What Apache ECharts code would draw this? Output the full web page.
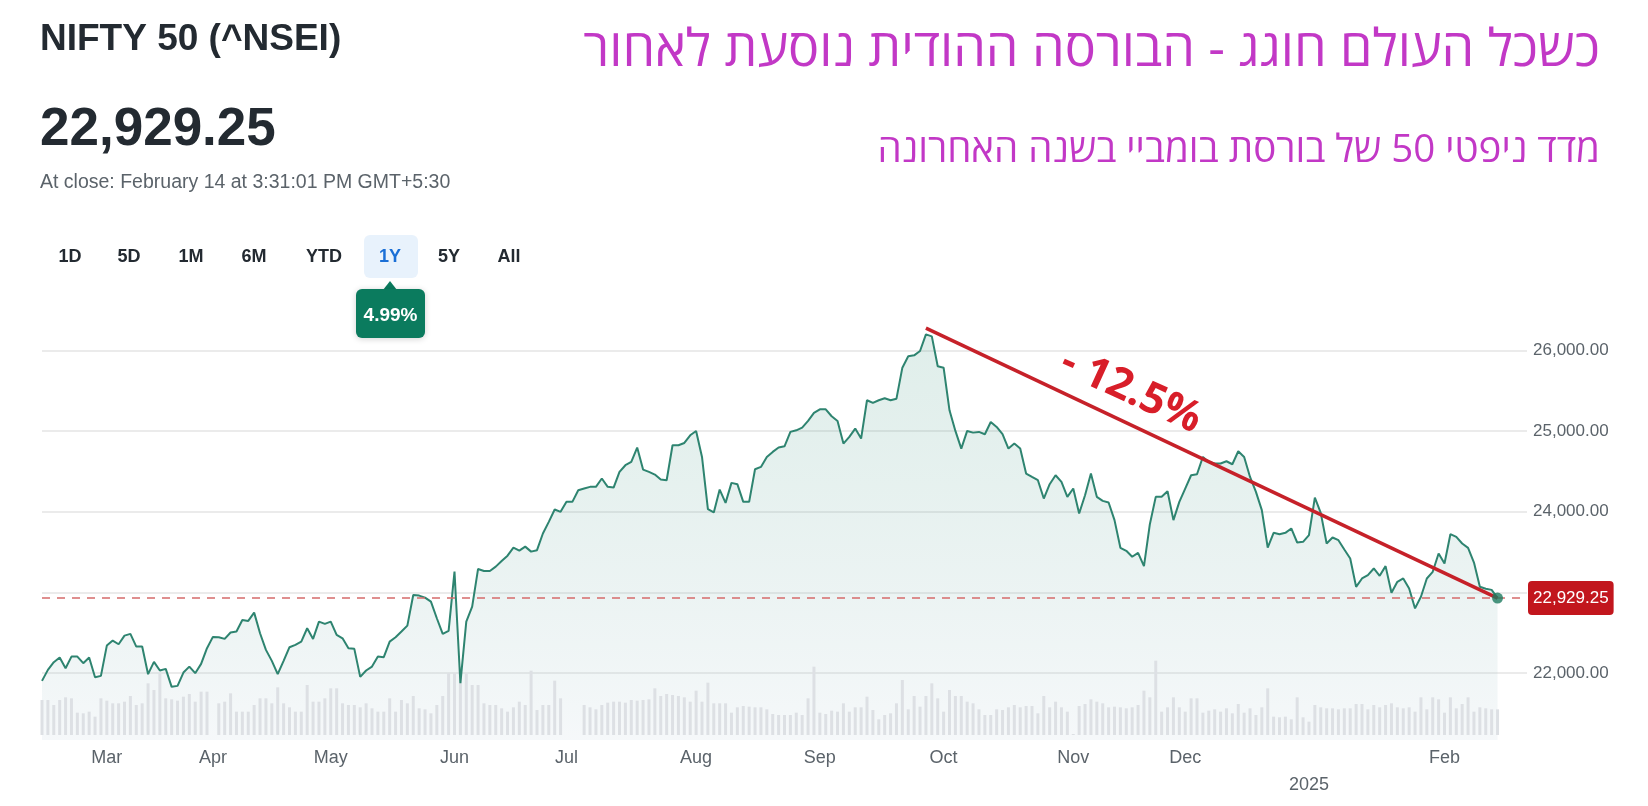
<!DOCTYPE html>
<html>
<head>
<meta charset="utf-8">
<script src="https://cdn.jsdelivr.net/npm/echarts@6/dist/echarts.min.js"></script>
<style>
html,body{margin:0;padding:0;background:#fff;}
#chart{width:1648px;height:806px;}
</style>
</head>
<body>
<div id="chart"></div>
<script>
// ---- data ----
const tradingMonths = ['2024-02','2024-03','2024-04','2024-05','2024-06','2024-07','2024-08','2024-09','2024-10','2024-11','2024-12','2025-01','2025-02'];
const tradingDays = [
  [15,16,19,20,21,22,23,26,27,28,29],
  [1,4,5,6,7,11,12,13,14,15,18,19,20,21,22,26,27,28],
  [1,2,3,4,5,8,9,10,12,15,16,18,19,22,23,24,25,26,29,30],
  [2,3,6,7,8,9,10,13,14,15,16,17,21,22,23,24,27,28,29,30,31],
  [3,4,5,6,7,10,11,12,13,14,18,19,20,21,24,25,26,27,28],
  [1,2,3,4,5,8,9,10,11,12,15,16,18,19,22,23,24,25,26,29,30,31],
  [1,2,5,6,7,8,9,12,13,14,16,19,20,21,22,23,26,27,28,29,30],
  [2,3,4,5,6,9,10,11,12,13,16,17,18,19,20,23,24,25,26,27,30],
  [1,3,4,7,8,9,10,11,14,15,16,17,18,21,22,23,24,25,28,29,30,31],
  [1,4,5,6,7,8,11,12,13,14,18,19,21,22,25,26,27,28,29],
  [2,3,4,5,6,9,10,11,12,13,16,17,18,19,20,23,24,26,27,30,31],
  [1,2,3,6,7,8,9,10,13,14,15,16,17,20,21,22,23,24,27,28,29,30,31],
  [3,4,5,6,7,10,11,12,13,14]
];
const monthNames = ['Jan','Feb','Mar','Apr','May','Jun','Jul','Aug','Sep','Oct','Nov','Dec'];

const closePrices = [
  21903,22039,22134,22192,22060,22204,22204,22122,22192,21948,
  21965,22340,22402,22357,22464,22485,22328,22328,21986,22138,
  22031,22052,21829,21841,22006,22080,21998,22114,22308,22448,
  22444,22423,22502,22514,22658,22646,22749,22493,22287,22151,
  21986,22151,22320,22349,22390,22555,22423,22638,22609,22638,
  22473,22431,22308,22300,21953,22031,22080,22204,22196,22390,
  22444,22514,22588,22968,22960,22935,22885,22679,22485,22522,
  23257,21874,22638,22823,23290,23265,23265,23319,23389,23455,
  23554,23517,23567,23505,23523,23730,23874,24027,23998,24122,
  24122,24266,24287,24308,24308,24411,24308,24299,24493,24576,
  24617,24795,24522,24493,24460,24398,24390,24824,24824,24852,
  24947,25001,24679,24031,23990,24274,24109,24357,24341,24122,
  24122,24526,24555,24679,24741,24795,24811,24989,25009,25042,
  25125,25224,25269,25269,25183,25125,24844,24927,25030,24906,
  25381,25348,25381,25406,25381,25401,25785,25926,25938,25992,
  26198,26173,25802,25785,25257,25001,24782,25001,24980,24989,
  24960,25112,25051,24960,24782,24844,24782,24473,24431,24390,
  24163,24341,24452,24369,24184,24287,23977,24204,24473,24184,
  24134,24114,23895,23552,23515,23441,23490,23325,23845,24184,
  24184,24254,23895,24122,24287,24452,24464,24679,24617,24597,
  24597,24625,24588,24749,24679,24431,24246,24019,23556,23738,
  23721,23738,23792,23618,23626,23709,24175,23986,23606,23680,
  23647,23531,23420,23069,23172,23214,23296,23205,23325,22995,
  23131,23172,23048,22801,22945,23172,23255,23482,23358,23721,
  23688,23606,23552,23370,23069,23045,23031,22929.25
];

const volumes = [
  420,420,360,420,452,440,268,260,280,220,440,412,380,380,400,468,360,380,620,540,740,440,428,412,460,492,400,520,520,
  null,
  380,400,500,280,280,280,360,440,440,380,572,380,332,280,280,600,400,400,440,560,560,380,360,360,332,380,320,280,280,440,
  280,420,380,468,320,308,260,360,468,740,740,820,740,600,600,380,360,360,320,280,332,400,360,772,300,360,360,652,440,
  null,null,null,
  360,332,308,360,388,400,400,388,420,412,420,428,560,468,492,480,468,452,400,532,400,628,380,380,380,268,332,348,340,332,332,308,
  252,240,240,240,268,240,440,
  820,
  268,252,292,280,380,280,332,332,460,300,
  188,240,260,380,660,308,468,340,468,620,
  440,280,540,468,468,400,380,308,240,240,
  308,300,332,360,332,348,348,260,468,332,
  400,332,280,12,348,372,428,400,380,332,
  340,332,320,332,360,532,452,892,280,332,
  452,332,280,440,440,268,292,308,280,320,
  260,372,268,320,240,332,560,220,212,220,
  188,452,212,160,360,332,320,320,308,320,
  320,372,372,308,360,332,360,380,332,320,
  332,280,452,308,452,428,268,452,320,372,
  452,280,332,320,308,
  308
];

const lastClose = 22929.25;
const trendLine = [[150, 26275], [247, 22929.25]];   // [trading-day index, value]
const rangeTabs = ['1D','5D','1M','6M','YTD','1Y','5Y','All'];
const activeTab = '1Y';
const rangeChange = '4.99%';
const trendLabel = '- 12.5%';

// ---- build categories ----
const dates = [];
tradingMonths.forEach((m, i) => tradingDays[i].forEach(d => dates.push(m + '-' + String(d).padStart(2, '0'))));
const isMonthStart = dates.map((d, i) => i > 0 && d.slice(0, 7) !== dates[i - 1].slice(0, 7));

const fmtNum = v => v.toLocaleString('en-US', {minimumFractionDigits: 2, maximumFractionDigits: 2});

const chart = echarts.init(document.getElementById('chart'), null, {renderer: 'canvas'});

const labelColor = '#5b636a';
const baseFont = "'Liberation Sans', Arial, sans-serif";
const hebFont = "'Open Sans', 'DejaVu Sans', 'Liberation Sans', sans-serif";

// tab positions (layout)
const tabX = [70, 129, 191, 254, 324, 390, 449, 509];

const graphics = [
  {type:'text', x:40, y:40, style:{text:'NIFTY 50 (^NSEI)', font:"bold 37px " + baseFont, fill:'#232a31', align:'left', verticalAlign:'middle'}},
  {type:'text', x:40, y:130, style:{text:fmtNum(lastClose), font:"bold 53px " + baseFont, fill:'#232a31', align:'left', verticalAlign:'middle'}},
  {type:'text', x:40, y:183, style:{text:'At close: February 14 at 3:31:01 PM GMT+5:30', font:"19.5px " + baseFont, fill:labelColor, align:'left', verticalAlign:'middle'}},
  {type:'rect', shape:{x:364, y:235, width:54, height:43, r:6}, style:{fill:'#e8f2fc'}},
  {type:'polygon', shape:{points:[[383,290],[390,281],[397,290]]}, style:{fill:'#0b7b5e'}},
  {type:'rect', shape:{x:356, y:289, width:69, height:49, r:6}, style:{fill:'#0b7b5e', shadowBlur:6, shadowColor:'rgba(0,0,0,0.18)', shadowOffsetY:1}},
  {type:'text', x:390.5, y:316, style:{text:rangeChange, font:"bold 19px " + baseFont, fill:'#ffffff', align:'center', verticalAlign:'middle'}},
  {type:'text', x:1600, y:51, style:{text:'כשכל העולם חוגג - הבורסה ההודית נוסעת לאחור', font:"52px " + hebFont, fill:'#c238c6', align:'right', verticalAlign:'middle'}},
  {type:'text', x:1600, y:151, style:{text:'מדד ניפטי 50 של בורסת בומביי בשנה האחרונה', font:"38.5px " + hebFont, fill:'#c238c6', align:'right', verticalAlign:'middle'}},
  {type:'text', x:1131, y:391, rotation:-24.6*Math.PI/180, style:{text:trendLabel, font:"bold 43px 'Open Sans', " + baseFont, fill:'#d81e29', align:'center', verticalAlign:'middle'}, z:100}
];
rangeTabs.forEach((t, i) => {
  graphics.push({type:'text', x:tabX[i], y:257, style:{text:t, font:"bold 18px " + baseFont, fill: t === activeTab ? '#1a6fd6' : '#232a31', align:'center', verticalAlign:'middle'}});
});

const option = {
  animation: false,
  backgroundColor: '#ffffff',
  textStyle: {fontFamily: baseFont},
  grid: [
    {left: 42, right: 121, top: 310, height: 430},
    {left: 42, right: 121, top: 635, height: 100}
  ],
  xAxis: [
    {
      type: 'category', gridIndex: 0, data: dates, boundaryGap: false, max: 252,
      axisLine: {show: false}, axisTick: {show: false}, splitLine: {show: false},
      axisLabel: {
        interval: (i) => !!isMonthStart[i],
        formatter: (v) => {
          const m = +v.slice(5, 7);
          return m === 1 ? '\n' + v.slice(0, 4) : monthNames[m - 1];
        },
        color: labelColor, fontSize: 18, margin: 5, lineHeight: 27, fontFamily: baseFont
      }
    },
    {type: 'category', gridIndex: 1, data: dates, boundaryGap: false, max: 252, show: false}
  ],
  yAxis: [
    {
      type: 'value', gridIndex: 0, position: 'right', min: 21170, max: 26500,
      minInterval: 1000, maxInterval: 1000,
      axisLine: {show: false}, axisTick: {show: false},
      splitLine: {show: true, showMinLine: false, showMaxLine: false, lineStyle: {color: '#e4e4e4', width: 1.5}},
      axisLabel: {
        showMinLabel: false, showMaxLabel: false, margin: 6,
        color: labelColor, fontSize: 17, fontFamily: baseFont,
        formatter: (v) => (v % 1000 === 0 && v >= 22000 && v !== 23000) ? fmtNum(v) : ''
      }
    },
    {type: 'value', gridIndex: 1, min: 0, max: 1200, show: false}
  ],
  series: [
    {
      name: 'area', type: 'line', xAxisIndex: 0, yAxisIndex: 0, data: closePrices,
      showSymbol: false, silent: true, z: 1,
      lineStyle: {width: 0},
      areaStyle: {
        origin: 'start',
        color: new echarts.graphic.LinearGradient(0, 0, 0, 1, [
          {offset: 0, color: 'rgba(20,128,100,0.19)'},
          {offset: 1, color: 'rgba(200,215,225,0.25)'}
        ])
      }
    },
    {
      name: 'volume', type: 'bar', xAxisIndex: 1, yAxisIndex: 1, data: volumes,
      barWidth: 3, silent: true, z: 2,
      itemStyle: {color: '#dde0e4'}
    },
    {
      name: 'NIFTY 50', type: 'line', xAxisIndex: 0, yAxisIndex: 0, data: closePrices,
      showSymbol: false, z: 3,
      lineStyle: {color: '#2e8470', width: 2},
      markLine: {
        silent: true, symbol: ['none', 'none'],
        lineStyle: {type: [8, 7], color: '#d56b6b', width: 1.5},
        label: {
          position: 'end', distance: 1, formatter: fmtNum(lastClose),
          color: '#ffffff', backgroundColor: '#c2161d', padding: [9, 5, 8, 5], borderRadius: 4,
          fontSize: 17, fontFamily: baseFont
        },
        data: [{yAxis: lastClose}]
      }
    },
    {
      name: 'trend', type: 'line', xAxisIndex: 0, yAxisIndex: 0,
      data: trendLine.map(p => [dates[p[0]], p[1]]),
      showSymbol: false, silent: true, z: 5,
      lineStyle: {color: '#c62129', width: 3.5}
    },
    {
      name: 'last', type: 'scatter', xAxisIndex: 0, yAxisIndex: 0,
      data: [[dates[dates.length - 1], closePrices[closePrices.length - 1]]],
      symbolSize: 11, silent: true, z: 6,
      itemStyle: {color: '#1d7a5f'}
    }
  ],
  graphic: graphics
};
chart.setOption(option);
</script>
</body>
</html>
